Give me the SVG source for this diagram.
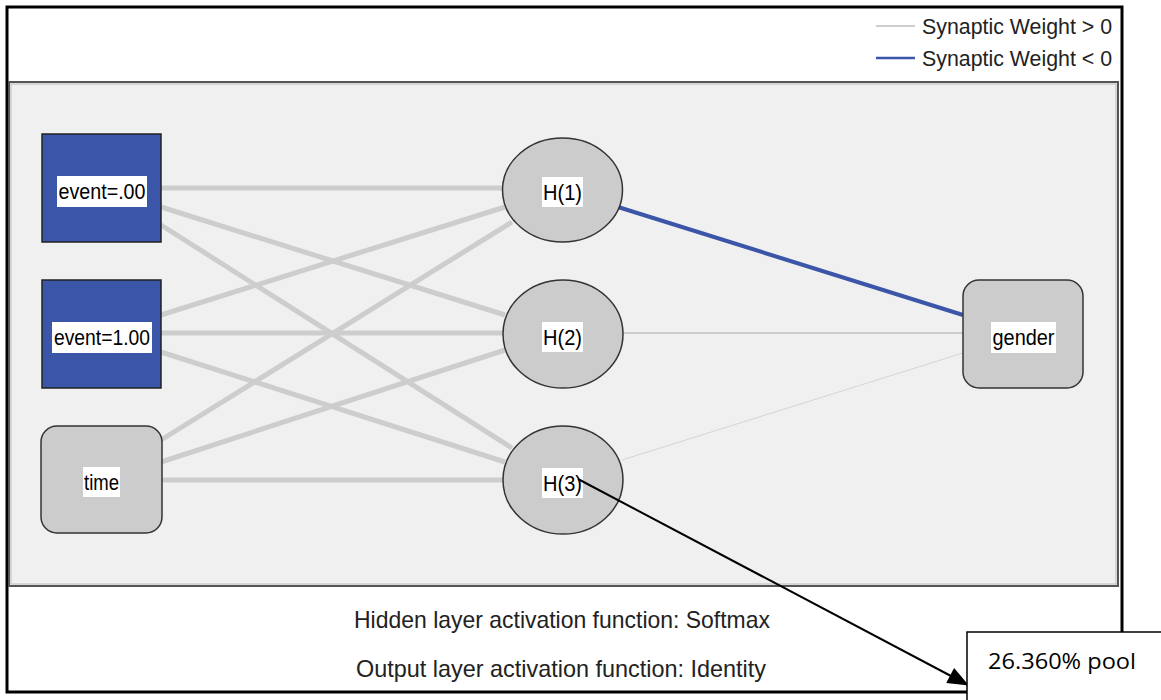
<svg xmlns="http://www.w3.org/2000/svg" width="1161" height="700" viewBox="0 0 1161 700">
<style>
.lbl{font-family:"Liberation Sans",Arial,sans-serif;font-size:22px;fill:#000;text-anchor:middle}
.lbox{fill:#fff;stroke:none}
.blue{fill:#3b55a8;stroke:#222;stroke-width:1.5}
.gray{fill:#cccccc;stroke:#333;stroke-width:1.5}
.pos{stroke:#cdcdcd;stroke-width:5;fill:none}
.txt{font-family:"Liberation Sans",Arial,sans-serif;fill:#222}
</style>
<defs>
<marker id="ah2" viewBox="0 0 20 16" refX="19" refY="8" markerWidth="22" markerHeight="17" markerUnits="userSpaceOnUse" orient="auto">
<path d="M0,0 L20,8 L0,16 z" fill="#000"/>
</marker>
</defs>
<rect x="0" y="0" width="1161" height="700" fill="#fff"/>
<rect x="7" y="7" width="1115" height="685" fill="#fff" stroke="#000" stroke-width="3"/>
<g id="legend">
<line x1="876" y1="26" x2="915" y2="26" stroke="#cdcdcd" stroke-width="2"/>
<text class="txt" x="922" y="34" font-size="22" textLength="190" lengthAdjust="spacingAndGlyphs">Synaptic Weight &gt; 0</text>
<line x1="876" y1="58" x2="915" y2="58" stroke="#3b55a8" stroke-width="2.5"/>
<text class="txt" x="922" y="66" font-size="22" textLength="190" lengthAdjust="spacingAndGlyphs">Synaptic Weight &lt; 0</text>
</g>
<rect x="9" y="82" width="1109" height="504" fill="#f0f0f0" stroke="#555" stroke-width="2"/>
<rect x="11" y="84" width="1105" height="500" fill="none" stroke="#bbb" stroke-width="1"/>
<g id="connectors">
<line class="pos" x1="161" y1="188" x2="503" y2="188"/>
<line class="pos" x1="161" y1="207" x2="505" y2="315"/>
<line class="pos" x1="161" y1="225" x2="512" y2="448"/>
<line class="pos" x1="161" y1="315" x2="505" y2="207"/>
<line class="pos" x1="161" y1="333" x2="503" y2="333"/>
<line class="pos" x1="161" y1="352" x2="505" y2="462"/>
<line class="pos" x1="161" y1="440" x2="512" y2="222"/>
<line class="pos" x1="161" y1="462" x2="505" y2="350"/>
<line class="pos" x1="161" y1="480" x2="503" y2="480"/>
<line x1="618" y1="207" x2="963" y2="315" stroke="#3b55a8" stroke-width="4"/>
<line x1="622" y1="333" x2="963" y2="333" stroke="#cdcdcd" stroke-width="2"/>
<line x1="622" y1="460" x2="963" y2="353" stroke="#d4d4d4" stroke-width="1"/>
</g>
<g id="n-event00">
<rect class="blue" x="42" y="134" width="119" height="108"/>
<rect class="lbox" x="57" y="176" width="90" height="31"/>
<text class="lbl" x="102" y="199" textLength="87" lengthAdjust="spacingAndGlyphs">event=.00</text>
</g>
<g id="n-event100">
<rect class="blue" x="42" y="280" width="119" height="108"/>
<rect class="lbox" x="52" y="322" width="100" height="31"/>
<text class="lbl" x="102" y="345" textLength="96" lengthAdjust="spacingAndGlyphs">event=1.00</text>
</g>
<g id="n-time">
<rect class="gray" x="41" y="426" width="121" height="107" rx="16"/>
<rect class="lbox" x="83" y="467" width="37" height="30"/>
<text class="lbl" x="101.5" y="490" textLength="35" lengthAdjust="spacingAndGlyphs">time</text>
</g>
<g id="n-h1">
<ellipse class="gray" cx="562.5" cy="190" rx="60" ry="52"/>
<rect class="lbox" x="542" y="177" width="41" height="30"/>
<text class="lbl" x="562.5" y="200" textLength="39" lengthAdjust="spacingAndGlyphs">H(1)</text>
</g>
<g id="n-h2">
<ellipse class="gray" cx="563" cy="334" rx="60" ry="54"/>
<rect class="lbox" x="542" y="322" width="41" height="30"/>
<text class="lbl" x="562.5" y="345" textLength="39" lengthAdjust="spacingAndGlyphs">H(2)</text>
</g>
<g id="n-h3">
<ellipse class="gray" cx="563" cy="480" rx="60" ry="54"/>
<rect class="lbox" x="542" y="468" width="41" height="30"/>
<text class="lbl" x="562.5" y="491" textLength="39" lengthAdjust="spacingAndGlyphs">H(3)</text>
</g>
<g id="n-gender">
<rect class="gray" x="963" y="280" width="120" height="108" rx="16"/>
<rect class="lbox" x="991" y="322" width="65" height="31"/>
<text class="lbl" x="1023.5" y="345" textLength="62" lengthAdjust="spacingAndGlyphs">gender</text>
</g>
<g id="footer">
<text class="txt" x="354" y="628" font-size="24" textLength="416" lengthAdjust="spacingAndGlyphs">Hidden layer activation function: Softmax</text>
<text class="txt" x="356" y="677" font-size="24" textLength="410" lengthAdjust="spacingAndGlyphs">Output layer activation function: Identity</text>
</g>
<g id="annotation">
<line x1="578" y1="479" x2="968" y2="685" stroke="#000" stroke-width="2" marker-end="url(#ah2)"/>
<rect x="967" y="632" width="200" height="80" fill="#fff" stroke="#000" stroke-width="1.5"/>
<text x="988" y="669" font-family="'Open Sans','Liberation Sans',sans-serif" font-size="21" fill="#000" textLength="148" lengthAdjust="spacingAndGlyphs">26.360% pool</text>
</g>
</svg>
